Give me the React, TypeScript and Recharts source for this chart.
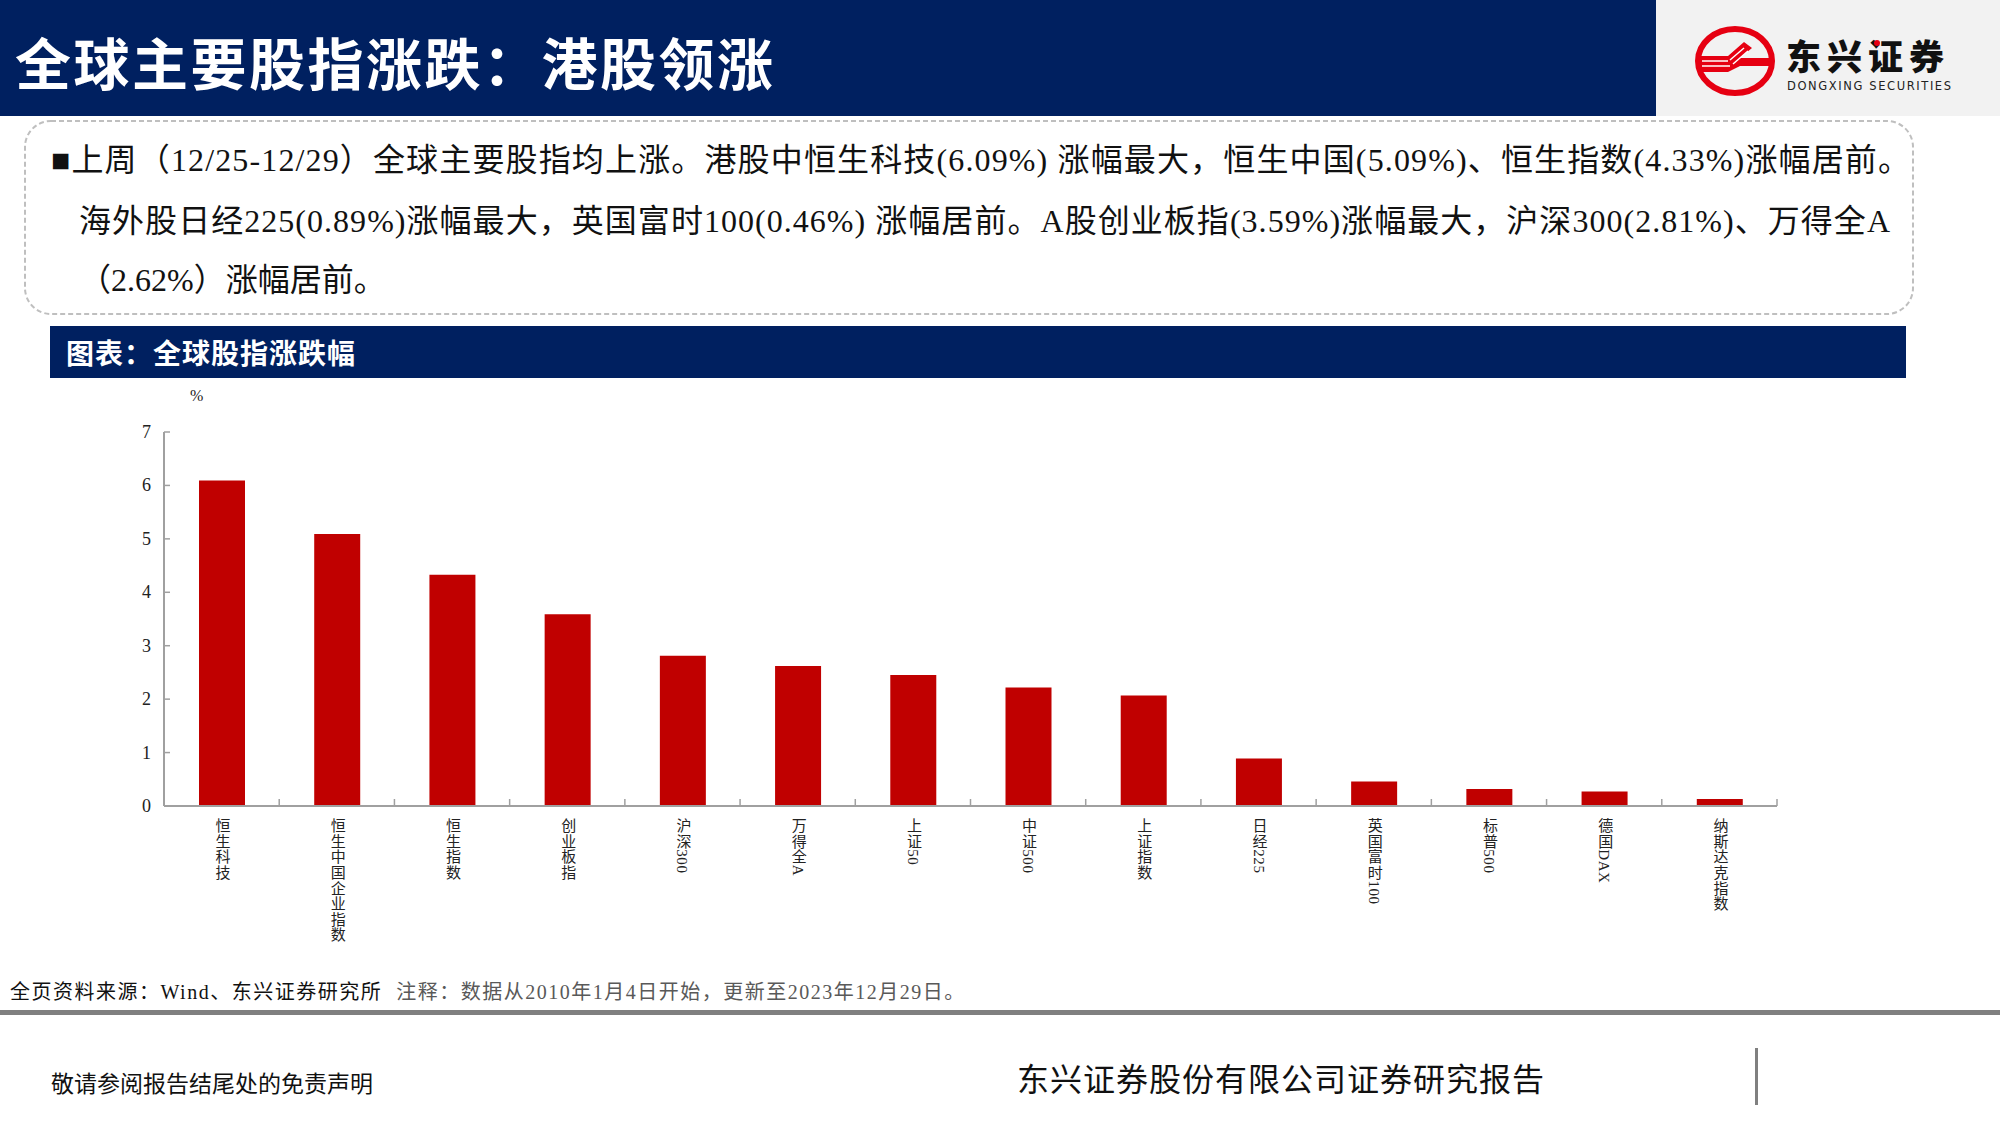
import React from 'react';
import { BarChart, Bar, XAxis, YAxis } from 'recharts';

// 全球股指周涨跌幅 (12/25-12/29)
const categories = [
  '恒生科技',
  '恒生中国企业指数',
  '恒生指数',
  '创业板指',
  '沪深300',
  '万得全A',
  '上证50',
  '中证500',
  '上证指数',
  '日经225',
  '英国富时100',
  '标普500',
  '德国DAX',
  '纳斯达克指数',
];
const weeklyChange = [6.09, 5.09, 4.33, 3.59, 2.81, 2.62, 2.45, 2.22, 2.07, 0.89, 0.46, 0.32, 0.27, 0.13];
const yTicks = [0, 1, 2, 3, 4, 5, 6, 7];

const summaryLines = [
  '■上周（12/25-12/29）全球主要股指均上涨。港股中恒生科技(6.09%) 涨幅最大，恒生中国(5.09%)、恒生指数(4.33%)涨幅居前。',
  '海外股日经225(0.89%)涨幅最大，英国富时100(0.46%) 涨幅居前。A股创业板指(3.59%)涨幅最大，沪深300(2.81%)、万得全A',
  '（2.62%）涨幅居前。',
];

const data = categories.map((name, i) => ({ name, value: weeklyChange[i] }));

const NAVY = '#002060';
const RED = '#C00000';
const AXIS = '#A0A0A0';
const SERIF = "'Liberation Serif', 'Times New Roman', 'Noto Sans CJK SC', serif";
const SANS = "'Noto Sans CJK SC', 'Noto Sans', sans-serif";

const CHART_W = 1800;
const CHART_H = 580;
const MARGIN = { top: 52, right: 23, bottom: 4, left: 104 };
const Y_W = 60;
const X_H = CHART_H - MARGIN.top - MARGIN.bottom - 374;
const BAND = (CHART_W - MARGIN.left - MARGIN.right - Y_W) / categories.length;

const XTick = (props: any) => {
  const { x, y, payload } = props;
  return (
    <g>
      <line x1={x + BAND / 2} x2={x + BAND / 2} y1={y} y2={y - 7} stroke={AXIS} strokeWidth={1.5} />
      <text
        x={x}
        y={y + 12}
        writingMode="vertical-rl"
        textAnchor="start"
        fontSize={15}
        letterSpacing={0.6}
        fill="#222"
        fontFamily={SERIF}
      >
        {payload.value}
      </text>
    </g>
  );
};

const YTick = (props: any) => {
  const { x, y, payload } = props;
  return (
    <g>
      {payload.value > 0 && <line x1={x} x2={x + 6} y1={y} y2={y} stroke={AXIS} strokeWidth={1.5} />}
      <text x={x - 13} y={y} textAnchor="end" dominantBaseline="central" fontSize={18} fill="#222" fontFamily={SERIF}>
        {payload.value}
      </text>
    </g>
  );
};

function Logo() {
  return (
    <svg width={344} height={116} style={{ position: 'absolute', left: 1656, top: 0 }}>
      <ellipse cx={79} cy={61} rx={37} ry={32} fill="none" stroke="#E60012" strokeWidth={6} />
      <path d="M44 56 L72 56 L88 42 L96 48 L84 58 L116 58 L116 66 L84 66 L72 72 L44 72 Z" fill="#E60012" />
      <line x1={46} y1={61} x2={72} y2={61} stroke="#fff" strokeWidth={1.5} />
      <line x1={46} y1={66} x2={74} y2={66} stroke="#fff" strokeWidth={1.5} />
      <line x1={74} y1={60} x2={88} y2={48} stroke="#fff" strokeWidth={1.5} />
      <line x1={77} y1={64} x2={92} y2={51} stroke="#fff" strokeWidth={1.5} />
      <text x={130} y={70} fontSize={35} fontWeight={900} fill="#111" fontFamily={SANS} letterSpacing={6}>
        东兴证券
      </text>
      <circle cx={221} cy={43} r={3} fill="#E60012" />
      <text x={131} y={90} fontSize={11.5} fill="#222" fontFamily="'DejaVu Sans', sans-serif" letterSpacing={1.6}>
        DONGXING SECURITIES
      </text>
    </svg>
  );
}

export default function App() {
  return (
    <div style={{ position: 'absolute', left: 0, top: 0, width: 2000, height: 1125, background: '#fff', overflow: 'hidden' }}>
      {/* header */}
      <div style={{ position: 'absolute', left: 0, top: 0, width: 1656, height: 116, background: NAVY }} />
      <div style={{ position: 'absolute', left: 1656, top: 0, width: 344, height: 116, background: '#F2F2F2' }} />
      <div
        style={{
          position: 'absolute',
          left: 15,
          top: 24,
          lineHeight: '74px',
          height: 74,
          fontSize: 56,
          fontWeight: 700,
          color: '#fff',
          fontFamily: SANS,
          letterSpacing: 2.5,
          whiteSpace: 'nowrap',
        }}
      >
        全球主要股指涨跌：港股领涨
      </div>
      <Logo />

      {/* summary box */}
      <svg width={2000} height={330} style={{ position: 'absolute', left: 0, top: 0 }}>
        <rect x={25} y={121} width={1888} height={193} rx={26} fill="none" stroke="#BFBFBF" strokeWidth={2} strokeDasharray="5 3" />
        <text x={51} y={171} fontSize={32} fontFamily={SERIF} fill="#111" textLength={1859} lengthAdjust="spacing">
          {summaryLines[0]}
        </text>
        <text x={79} y={232} fontSize={32} fontFamily={SERIF} fill="#111" textLength={1811} lengthAdjust="spacing">
          {summaryLines[1]}
        </text>
        <text x={79} y={291} fontSize={32} fontFamily={SERIF} fill="#111">
          {summaryLines[2]}
        </text>
      </svg>

      {/* chart title band */}
      <div style={{ position: 'absolute', left: 50, top: 326, width: 1856, height: 52, background: NAVY }} />
      <div
        style={{
          position: 'absolute',
          left: 66,
          top: 326,
          height: 52,
          lineHeight: '52px',
          fontSize: 28,
          fontWeight: 700,
          color: '#fff',
          fontFamily: SANS,
          letterSpacing: 1,
          whiteSpace: 'nowrap',
        }}
      >
        图表：全球股指涨跌幅
      </div>

      {/* chart */}
      <div style={{ position: 'absolute', left: 0, top: 380 }}>
        <BarChart width={CHART_W} height={CHART_H} data={data} margin={MARGIN}>
          <XAxis
            dataKey="name"
            interval={0}
            height={X_H}
            tickSize={0}
            tickMargin={0}
            tickLine={false}
            axisLine={{ stroke: AXIS, strokeWidth: 2 }}
            tick={<XTick />}
          />
          <YAxis
            domain={[0, 7]}
            ticks={yTicks}
            width={Y_W}
            tickSize={0}
            tickMargin={0}
            tickLine={false}
            axisLine={{ stroke: AXIS, strokeWidth: 2 }}
            tick={<YTick />}
            interval={0}
          />
          <Bar dataKey="value" fill={RED} barSize={46} isAnimationActive={false} />
        </BarChart>
        <div style={{ position: 'absolute', left: 190, top: 7, fontSize: 16, fontFamily: SERIF, color: '#222' }}>%</div>
      </div>

      {/* footer */}
      <div style={{ position: 'absolute', left: 10, top: 976, fontSize: 20, fontFamily: SERIF, letterSpacing: 1.5, whiteSpace: 'nowrap' }}>
        <span style={{ color: '#111' }}>全页资料来源：Wind、东兴证券研究所</span>
        <span style={{ color: '#595959', marginLeft: 14 }}>注释：数据从2010年1月4日开始，更新至2023年12月29日。</span>
      </div>
      <div style={{ position: 'absolute', left: 0, top: 1010, width: 2000, height: 5, background: '#808080' }} />
      <div style={{ position: 'absolute', left: 51, top: 1065, fontSize: 23, fontFamily: SERIF, color: '#111', whiteSpace: 'nowrap' }}>
        敬请参阅报告结尾处的免责声明
      </div>
      <div
        style={{
          position: 'absolute',
          left: 1017,
          top: 1054,
          fontSize: 32,
          fontFamily: SERIF,
          color: '#111',
          letterSpacing: 1,
          whiteSpace: 'nowrap',
        }}
      >
        东兴证券股份有限公司证券研究报告
      </div>
      <div style={{ position: 'absolute', left: 1755, top: 1048, width: 3, height: 57, background: '#808080' }} />
    </div>
  );
}
